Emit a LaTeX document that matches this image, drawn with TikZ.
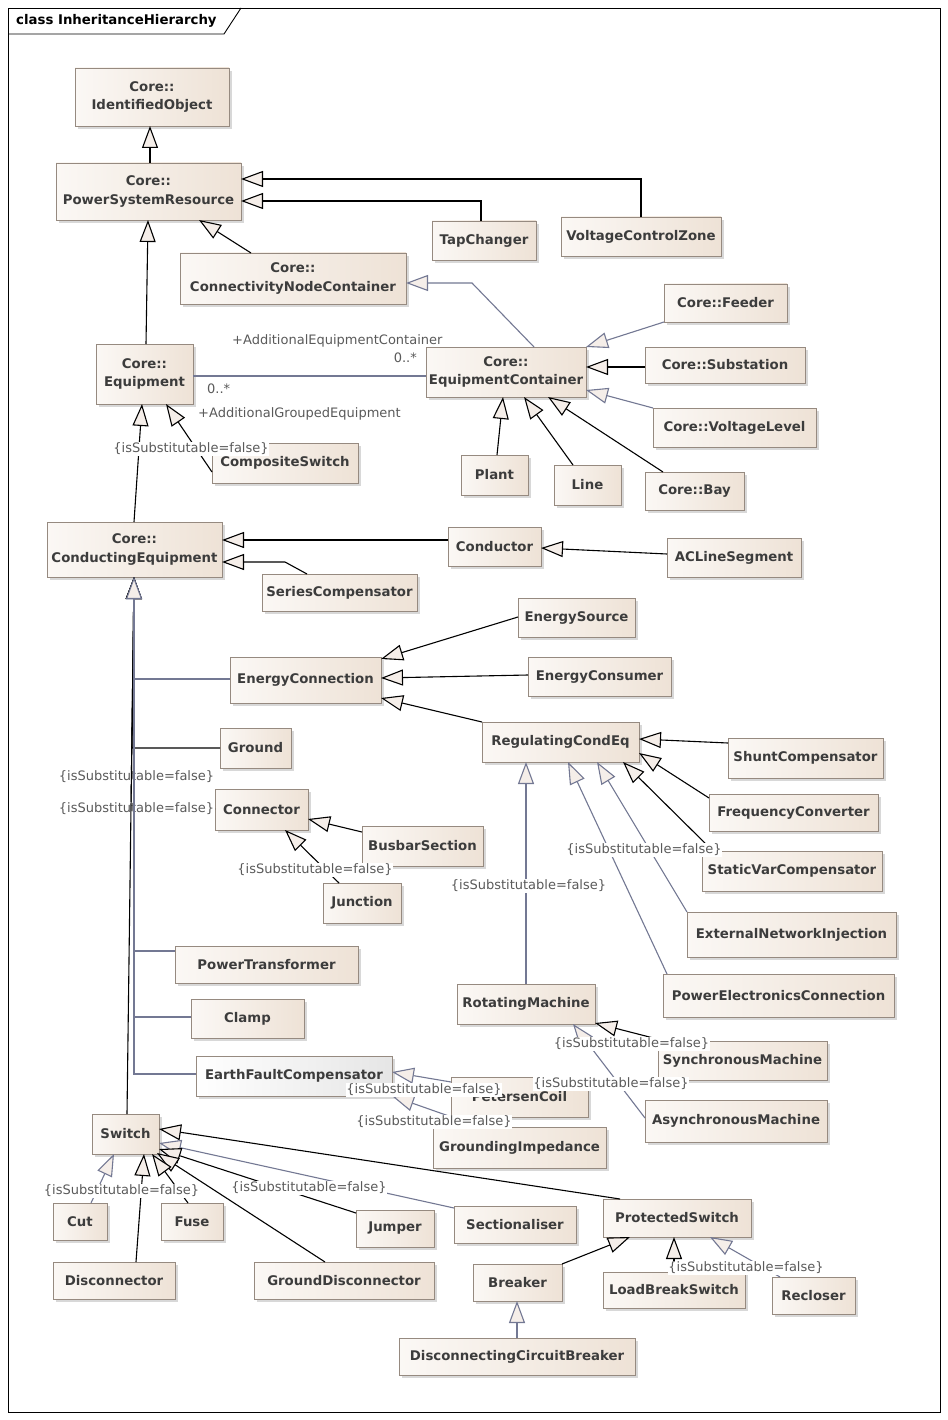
\documentclass[tikz,border=0pt]{standalone}
\usepackage{fontspec}
\setmainfont{DejaVu Sans}
\usetikzlibrary{arrows.meta,shadows,calc}
\definecolor{clsborder}{HTML}{968A80}
\definecolor{clsleft}{HTML}{FBF8F5}
\definecolor{clsright}{HTML}{EEE2D6}
\definecolor{clstext}{HTML}{3C3C3C}
\definecolor{lbltext}{HTML}{5A5A5A}
\definecolor{slate}{HTML}{737893}
\definecolor{trifill}{HTML}{F5EEE9}
\tikzset{
  cls/.style={draw=clsborder, line width=0.9pt, left color=clsleft, right color=clsright,
    drop shadow={shadow xshift=3pt, shadow yshift=-3pt, fill=black!30, opacity=0.5},
    font=\fontsize{13.3}{18.5}\selectfont\bfseries, text=clstext, align=center,
    inner sep=0pt, outer sep=0pt},
  efcfill/.style={left color=white, right color=black!10},
  lbl/.style={font=\fontsize{13}{15}\selectfont, text=lbltext, inner sep=0.6pt, fill=white},
  asl/.style={font=\fontsize{13}{15}\selectfont, text=lbltext, inner sep=0pt},
  gentip/.tip={Triangle[length=22pt,width=16pt,fill=trifill]},
  blk/.style={draw=black, line width=1.1pt, -gentip},
  gry/.style={draw=slate, line width=1.1pt, -gentip},
  assoc/.style={draw=slate, line width=1.1pt},
}
\newcommand\umlbox[7][]{%
  \pgfmathsetmacro\umlW{#5-#3}%
  \pgfmathsetmacro\umlH{#6-#4}%
  \pgfmathsetmacro\umlX{(#3+#5)/2}%
  \pgfmathsetmacro\umlY{(#4+#6)/2}%
  \node[cls,#1,minimum width=\umlW pt,minimum height=\umlH pt] (#2) at (\umlX,\umlY) {#7};}
\begin{document}
\begin{tikzpicture}[x=1pt,y=-1pt]
\useasboundingbox (0,0) rectangle (947,1420);
\fill[white] (0,0) rectangle (947,1420);
% frame
\draw[line width=0.9pt] (8,8) rectangle (940,1412);
\draw[line width=0.9pt] (8,34) -- (224,34) -- (241,8);
\node[anchor=west, font=\fontsize{13.3}{15}\selectfont\bfseries, inner sep=0pt] (title) at (16,21) {class InheritanceHierarchy};

% classes
\umlbox{IO}{75}{68}{229}{126}{Core::\\IdentifiedObject}
\umlbox{PSR}{56}{163}{241}{220}{Core::\\PowerSystemResource}
\umlbox{CNC}{180}{253}{406}{304}{Core::\\ConnectivityNodeContainer}
\umlbox{TC}{432}{221}{536}{260}{TapChanger}
\umlbox{VCZ}{561}{217}{721}{256}{VoltageControlZone}
\umlbox{EQ}{96}{344}{193}{404}{Core::\\Equipment}
\umlbox{EC}{426}{347}{586}{397}{Core::\\EquipmentContainer}
\umlbox{FDR}{664}{284}{787}{322}{Core::Feeder}
\umlbox{SUB}{645}{347}{805}{383}{Core::Substation}
\umlbox{VL}{653}{408}{816}{447}{Core::VoltageLevel}
\umlbox{PLT}{461}{455}{528}{495}{Plant}
\umlbox{LINE}{554}{465}{621}{505}{Line}
\umlbox{BAY}{645}{472}{744}{510}{Core::Bay}
\umlbox{CSW}{212}{443}{358}{483}{CompositeSwitch}
\umlbox{CE}{47}{522}{222}{577}{Core::\\ConductingEquipment}
\umlbox{CDR}{448}{527}{541}{566}{Conductor}
\umlbox{ACLS}{667}{538}{801}{577}{ACLineSegment}
\umlbox{SC}{262}{574}{417}{611}{SeriesCompensator}
\umlbox{ES}{518}{598}{635}{637}{EnergySource}
\umlbox{ECON}{528}{657}{671}{696}{EnergyConsumer}
\umlbox{ECN}{230}{657}{381}{703}{EnergyConnection}
\umlbox{RCE}{482}{722}{639}{762}{RegulatingCondEq}
\umlbox{GND}{220}{728}{291}{768}{Ground}
\umlbox{SHC}{728}{738}{883}{778}{ShuntCompensator}
\umlbox{CON}{215}{789}{308}{830}{Connector}
\umlbox{FC}{709}{794}{878}{831}{FrequencyConverter}
\umlbox{BBS}{362}{826}{483}{866}{BusbarSection}
\umlbox{SVC}{702}{851}{882}{891}{StaticVarCompensator}
\umlbox{JCT}{323}{883}{401}{923}{Junction}
\umlbox{ENI}{687}{912}{896}{957}{ExternalNetworkInjection}
\umlbox{PT}{175}{946}{358}{983}{PowerTransformer}
\umlbox{PEC}{663}{974}{894}{1017}{PowerElectronicsConnection}
\umlbox{RM}{457}{984}{595}{1024}{RotatingMachine}
\umlbox{CLP}{191}{999}{304}{1038}{Clamp}
\umlbox{SM}{658}{1041}{827}{1080}{SynchronousMachine}
\umlbox[efcfill]{EFC}{196}{1056}{392}{1096}{EarthFaultCompensator}
\umlbox{PC}{451}{1077}{588}{1117}{PetersenCoil}
\umlbox{ASM}{645}{1100}{827}{1142}{AsynchronousMachine}
\umlbox{GI}{433}{1127}{606}{1168}{GroundingImpedance}
\umlbox{SW}{92}{1114}{159}{1154}{Switch}
\umlbox{CUT}{53}{1203}{107}{1240}{Cut}
\umlbox{FUSE}{161}{1203}{223}{1240}{Fuse}
\umlbox{JMP}{356}{1210}{434}{1247}{Jumper}
\umlbox{SEC}{454}{1206}{576}{1243}{Sectionaliser}
\umlbox{PS}{603}{1199}{751}{1237}{ProtectedSwitch}
\umlbox{DIS}{53}{1262}{175}{1299}{Disconnector}
\umlbox{GD}{254}{1262}{434}{1299}{GroundDisconnector}
\umlbox{BRK}{473}{1264}{562}{1301}{Breaker}
\umlbox{LBS}{603}{1272}{745}{1308}{LoadBreakSwitch}
\umlbox{REC}{772}{1277}{855}{1314}{Recloser}
\umlbox{DCB}{399}{1338}{635}{1375}{DisconnectingCircuitBreaker}

% generalisations, top part
\draw[blk] ($(PSR.north west)+(94,0)$) -- ($(IO.north west)+(75,58)$);
\draw[blk] ($(VCZ.north west)+(80,0)$) |- ($(PSR.north west)+(185,16)$);
\draw[blk] ($(TC.north west)+(49,0)$) |- ($(PSR.north west)+(185,38)$);
\draw[blk] ($(CNC.north west)+(71,0)$) -- ($(PSR.north west)+(143,57)$);
\draw[blk] ($(EQ.north west)+(50,0)$) -- ($(PSR.north west)+(92,57)$);
\draw[gry] ($(EC.north west)+(108,0)$) -- ($(CNC.north west)+(292,30)$) -- ($(CNC.north west)+(226,30)$);
\draw[gry] (FDR.south west) -- (EC.north east);
\draw[blk] ($(SUB.north west)+(0,20)$) -- ($(EC.north west)+(160,20)$);
\draw[gry] (VL.north west) -- ($(EC.north west)+(160,43)$);
\draw[blk] ($(PLT.north west)+(36,0)$) -- ($(EC.north west)+(77,50)$);
\draw[blk] ($(LINE.north west)+(19,0)$) -- ($(EC.north west)+(98,50)$);
\draw[blk] ($(BAY.north west)+(18,0)$) -- ($(EC.north west)+(122,50)$);
% association
\draw[assoc] ($(EQ.north west)+(97,32)$) -- ($(EC.north west)+(0,29)$);
\node[asl, anchor=west] (aec) at (232,341) {+AdditionalEquipmentContainer};
\node[asl, anchor=east] (m1) at (417,358) {0..*};
\node[asl, anchor=west] (m2) at (207,389) {0..*};
\node[asl, anchor=west] (age) at (198,414) {+AdditionalGroupedEquipment};

\draw[blk] ($(CSW.north west)+(0,29)$) -- ($(EQ.north west)+(70,60)$);
\draw[blk] ($(CE.north west)+(87,0)$) -- ($(EQ.north west)+(46,60)$);
\draw[blk] ($(CDR.north west)+(0,13)$) -- ($(CE.north west)+(175,18)$);
\draw[blk] ($(SC.north west)+(45,0)$) -- ($(SC.north west)+(23,-12)$) -- ($(CE.north west)+(175,40)$);
\draw[blk] ($(ACLS.north west)+(0,16)$) -- ($(CDR.north west)+(93,21)$);
\draw[blk] ($(ES.north west)+(0,19)$) -- ($(ECN.north west)+(151,2)$);
\draw[blk] ($(ECON.north west)+(0,18)$) -- ($(ECN.north west)+(151,21)$);
\draw[blk] (RCE.north west) -- ($(ECN.north west)+(151,41)$);
\draw[blk] ($(SHC.north west)+(0,5)$) -- ($(RCE.north west)+(157,17)$);
\draw[blk] ($(FC.north west)+(0,4)$) -- ($(RCE.north west)+(157,31)$);
\draw[blk] ($(SVC.north west)+(11,0)$) -- ($(RCE.north west)+(141,40)$);
\draw[gry] (ENI.north west) -- ($(RCE.north west)+(115,40)$);
\draw[gry] ($(PEC.north west)+(4,0)$) -- ($(RCE.north west)+(86,40)$);
\draw[gry] ($(RM.north west)+(69,0)$) -- ($(RCE.north west)+(44,40)$);
\draw[blk] ($(SM.north west)+(7,0)$) -- ($(RM.north west)+(138,39)$);
\draw[gry] ($(ASM.north west)+(0,18)$) -- ($(RM.north west)+(116,40)$);
\draw[gry] ($(PC.north west)+(0,5)$) -- ($(EFC.north west)+(196,16)$);
\draw[gry] ($(GI.north west)+(47,0)$) -- (EFC.south east);

% ConductingEquipment tree
\draw[gry] ($(ECN.north west)+(0,22)$) -| ($(CE.north west)+(87,55)$);
\draw[gry] ($(PT.north west)+(0,5)$) -| ($(CE.north west)+(87,55)$);
\draw[gry] ($(CLP.north west)+(0,18)$) -| ($(CE.north west)+(87,55)$);
\draw[blk] ($(GND.north west)+(0,20)$) -- ($(CE.north west)+(85,226)$) -- ($(CE.north west)+(87,55)$);
\draw[blk] ($(CON.north west)+(0,20)$) -- ($(CE.north west)+(84,287)$) -- ($(CE.north west)+(87,55)$);
\draw[blk] ($(JCT.north west)+(16,0)$) -- ($(CON.north west)+(70,41)$);
\draw[blk] ($(BBS.north west)+(0,6)$) -- ($(CON.north west)+(93,30)$);

% Switch family
\draw[blk] ($(PS.north west)+(17,0)$) -- ($(SW.north west)+(67,15)$);
\draw[gry] ($(SEC.north west)+(0,2)$) -- ($(SW.north west)+(67,29)$);
\draw[blk] ($(JMP.north west)+(0,3)$) -- ($(SW.north west)+(67,35)$);
\draw[blk] ($(GD.north west)+(71,0)$) -- ($(SW.north west)+(65,39)$);
\draw[blk] ($(FUSE.north west)+(27,0)$) -- ($(SW.north west)+(60,40)$);
\draw[blk] ($(DIS.north west)+(83,0)$) -- ($(SW.north west)+(52,40)$);
\draw[gry] ($(CUT.north west)+(38,0)$) -- ($(SW.north west)+(22,40)$);
\draw[blk] (BRK.north east) -- ($(PS.north west)+(27,38)$);
\draw[blk] ($(LBS.north west)+(71,0)$) -- ($(PS.north west)+(71,38)$);
\draw[gry] ($(REC.north west)+(8,0)$) -- ($(PS.north west)+(107,38)$);
\draw[gry] ($(DCB.north west)+(118,0)$) -- ($(BRK.north west)+(44,37)$);

% constraint labels
\node[lbl] (l1) at (191,449) {\{isSubstitutable=false\}};
\node[lbl] (l2) at (136.5,777) {\{isSubstitutable=false\}};
\node[lbl] (l3) at (136.5,809) {\{isSubstitutable=false\}};
\node[lbl] (l4) at (315,870) {\{isSubstitutable=false\}};
\node[lbl] (l5) at (644,850) {\{isSubstitutable=false\}};
\node[lbl] (l6) at (528.5,886) {\{isSubstitutable=false\}};
\node[lbl] (l7) at (631.5,1044) {\{isSubstitutable=false\}};
\node[lbl] (l8) at (611,1084) {\{isSubstitutable=false\}};
\node[lbl] (l9) at (424,1090) {\{isSubstitutable=false\}};
\node[lbl] (l10) at (434,1122) {\{isSubstitutable=false\}};
\node[lbl] (l11) at (121.5,1191) {\{isSubstitutable=false\}};
\node[lbl] (l12) at (309,1188) {\{isSubstitutable=false\}};
\node[lbl] (l13) at (746,1268) {\{isSubstitutable=false\}};

% trunk connectors drawn over the labels
\draw[blk] ($(SW.north west)+(35,0)$) -- ($(CE.north west)+(87,55)$);
\draw[gry] ($(EFC.north west)+(0,18)$) -| ($(CE.north west)+(87,55)$);
\end{tikzpicture}
\end{document}
